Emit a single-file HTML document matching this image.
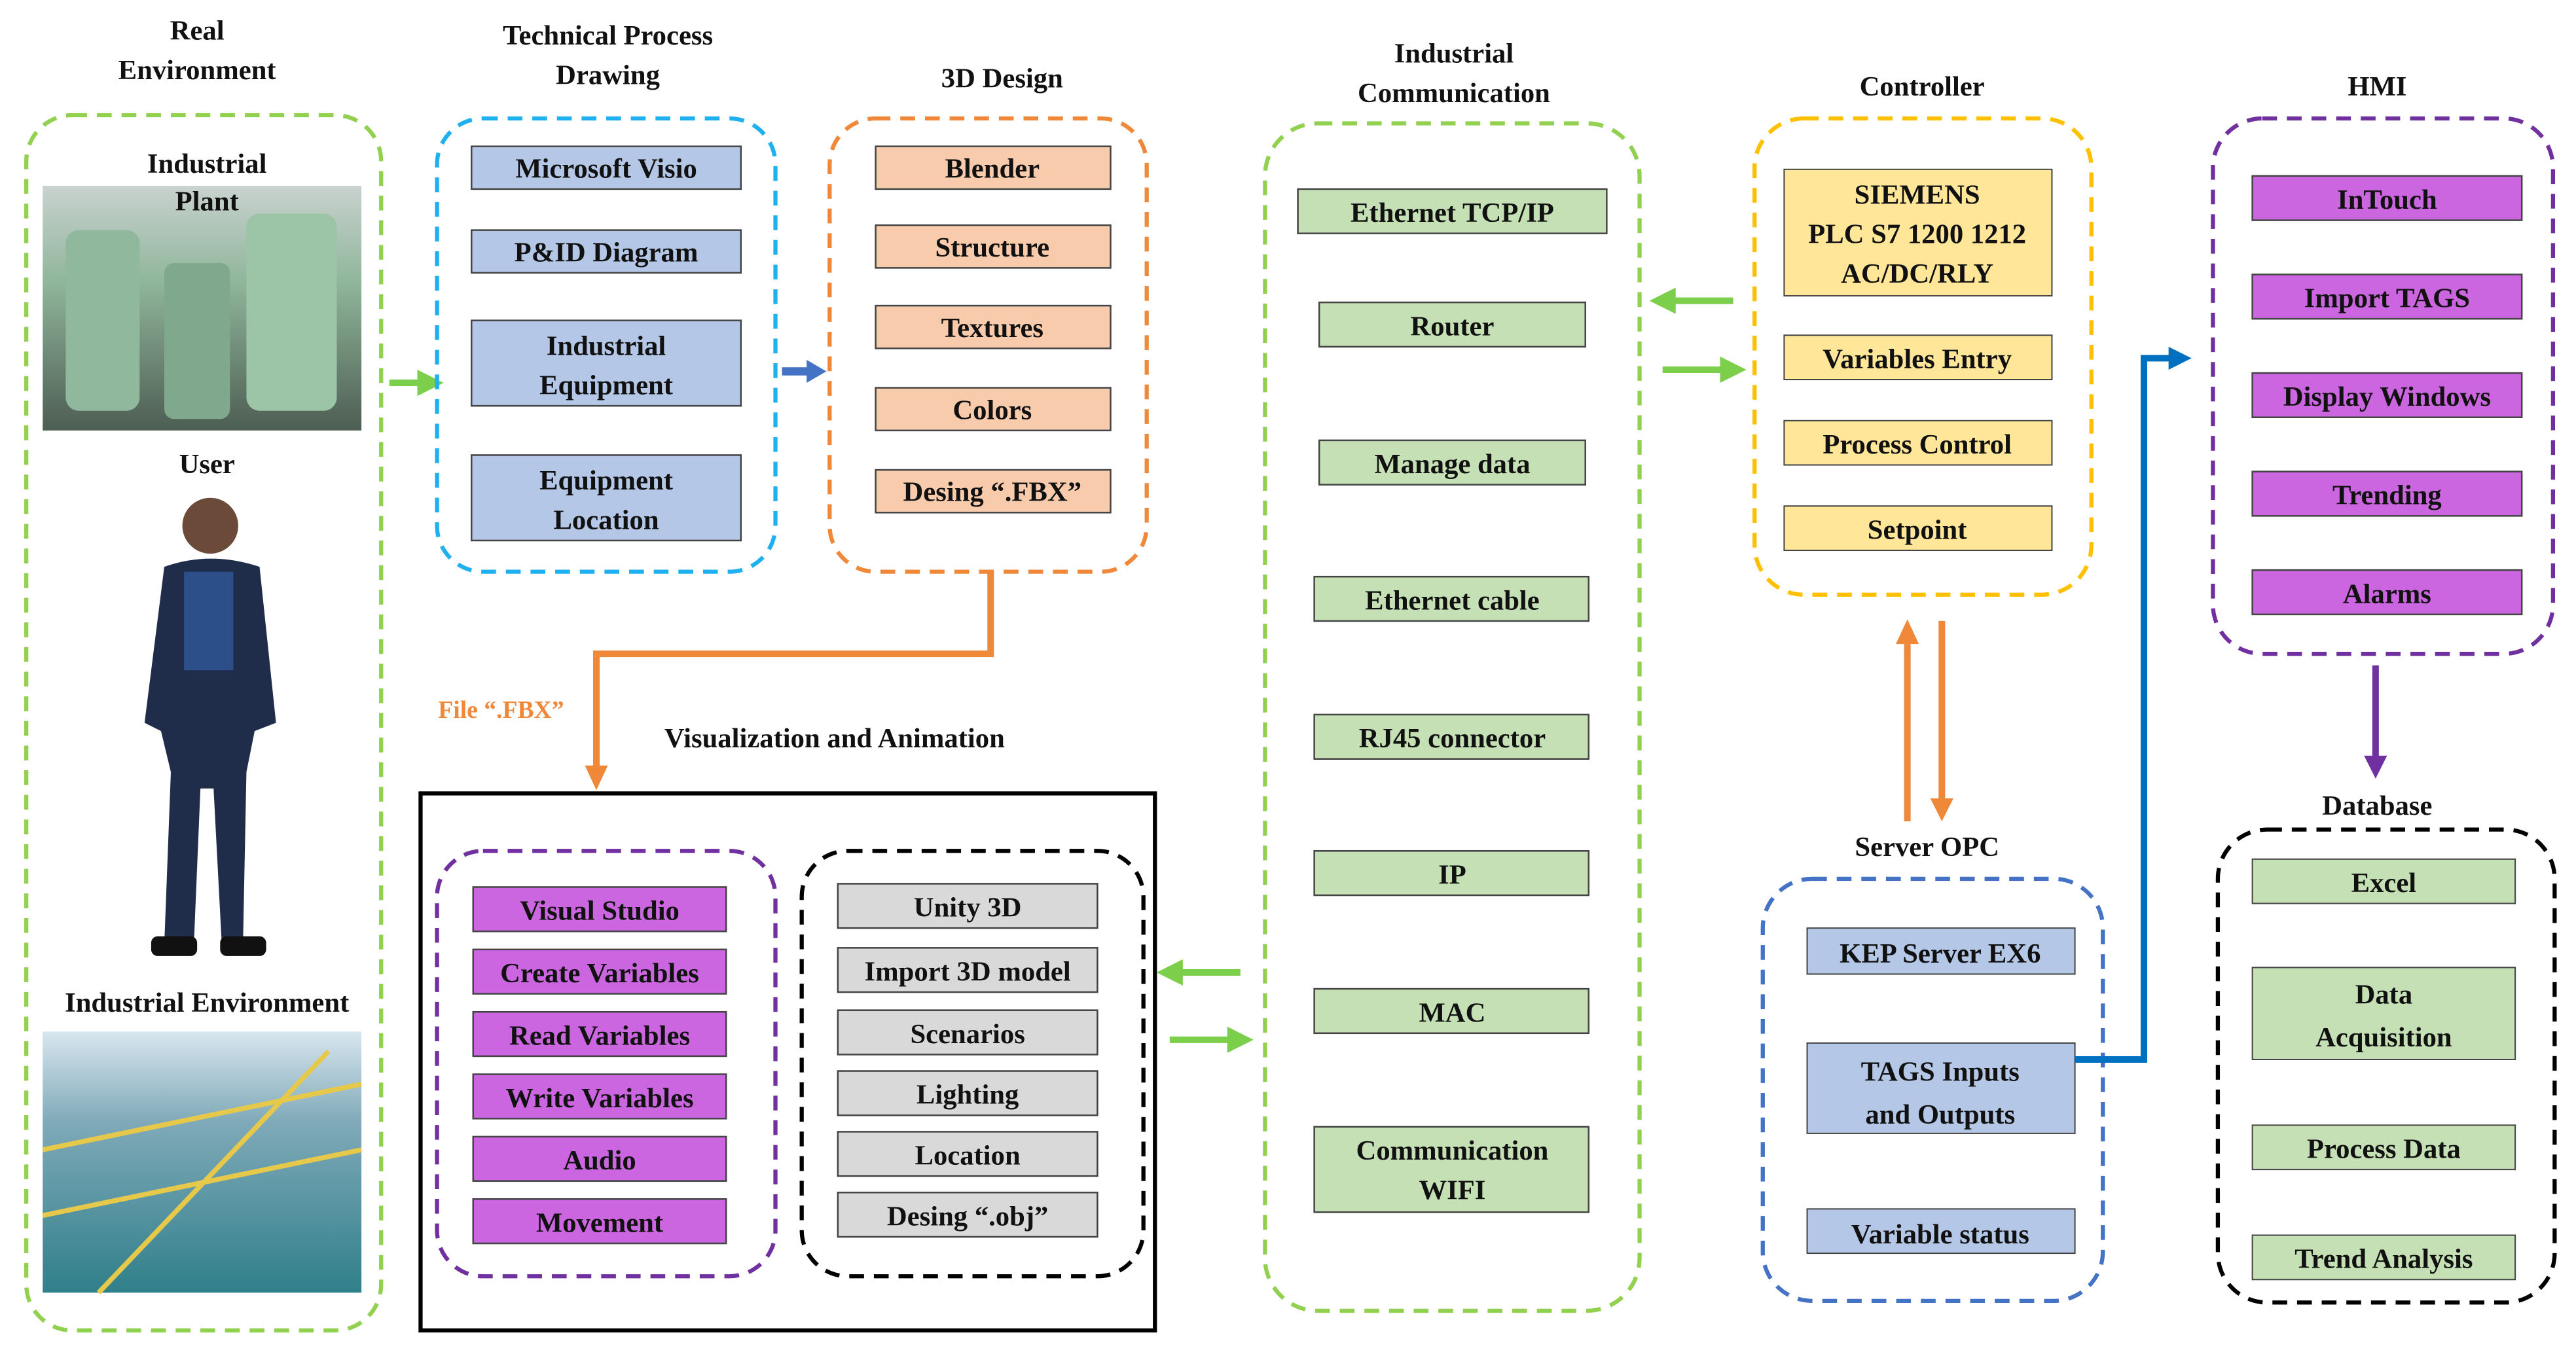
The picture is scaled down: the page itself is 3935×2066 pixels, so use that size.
<!DOCTYPE html>
<html><head><meta charset="utf-8"><style>
html,body{margin:0;padding:0;background:#fff}
svg{display:block}
text{font-family:"Liberation Serif",serif;font-weight:bold;fill:#111}
</style></head><body>
<svg width="3935" height="2066" viewBox="0 0 1568 823" xmlns="http://www.w3.org/2000/svg">
<defs>
<linearGradient id="pl" x1="0" y1="0" x2="0" y2="1"><stop offset="0" stop-color="#c9d2cf"/><stop offset="0.4" stop-color="#8fb59a"/><stop offset="1" stop-color="#4d5d52"/></linearGradient>
<linearGradient id="ie" x1="0" y1="0" x2="0" y2="1"><stop offset="0" stop-color="#d8e6ee"/><stop offset="0.35" stop-color="#7fa9b8"/><stop offset="1" stop-color="#2f7f8a"/></linearGradient>
<marker id="ag" markerWidth="4" markerHeight="4" refX="2" refY="2" orient="auto" markerUnits="strokeWidth"><path d="M0,0 L4,2 L0,4 z" fill="#7ccf4a"/></marker>
</defs>
<g text-anchor="middle" font-size="17">
<!-- Real environment -->
<text x="120" y="24">Real</text><text x="120" y="48">Environment</text>
<rect x="16" y="70" width="216" height="740" rx="28" fill="none" stroke="#92d050" stroke-width="2.5" stroke-dasharray="9,6"/>
<rect x="26" y="113" width="194" height="149" fill="url(#pl)"/>
<rect x="40" y="140" width="45" height="110" rx="8" fill="#8fb89c"/><rect x="150" y="130" width="55" height="120" rx="8" fill="#9cc4a6"/><rect x="100" y="160" width="40" height="95" rx="6" fill="#7fa88c"/>
<text x="126" y="105">Industrial</text><text x="126" y="128" fill="#444">Plant</text>
<text x="126" y="288">User</text>
<circle cx="128" cy="320" r="17" fill="#6b4a3a"/>
<path d="M100,345 Q128,335 158,345 L168,440 L155,445 L150,470 L148,570 L135,575 L130,480 L122,480 L118,575 L100,575 L104,470 L98,445 L88,440 Z" fill="#1f2d4a"/>
<rect x="112" y="348" width="30" height="60" fill="#2c4f8a"/>
<rect x="92" y="570" width="28" height="12" rx="4" fill="#111"/><rect x="134" y="570" width="28" height="12" rx="4" fill="#111"/>
<text x="126" y="616">Industrial Environment</text>
<rect x="26" y="628" width="194" height="159" fill="url(#ie)"/>
<path d="M26,700 L220,660 M26,740 L220,700 M60,787 L200,640" stroke="#e6c84a" stroke-width="3"/>
<path d="M237,233 L262,233" stroke="#7ccf4a" stroke-width="4" marker-end="url(#ag)"/>

<!-- Technical process -->
<text x="370" y="27">Technical Process</text><text x="370" y="51">Drawing</text>
<rect x="266" y="72" width="206" height="276" rx="28" fill="none" stroke="#1fb0f0" stroke-width="2.5" stroke-dasharray="9,6"/>
<g fill="#b4c7e7" stroke="#444" stroke-width="1">
<rect x="287" y="89" width="164" height="26"/><rect x="287" y="140" width="164" height="26"/><rect x="287" y="195" width="164" height="52"/><rect x="287" y="277" width="164" height="52"/></g>
<text x="369" y="108">Microsoft Visio</text><text x="369" y="159">P&amp;ID Diagram</text>
<text x="369" y="216">Industrial</text><text x="369" y="240">Equipment</text>
<text x="369" y="298">Equipment</text><text x="369" y="322">Location</text>
<path d="M476,226 L492,226" stroke="#4472c4" stroke-width="5"/><path d="M491,219 L503,226 L491,233 z" fill="#4472c4"/>

<!-- 3D design -->
<text x="610" y="53">3D Design</text>
<rect x="505" y="72" width="193" height="276" rx="28" fill="none" stroke="#f0883a" stroke-width="2.5" stroke-dasharray="9,6"/>
<g fill="#f8cbad" stroke="#444" stroke-width="1">
<rect x="533" y="89" width="143" height="26"/><rect x="533" y="137" width="143" height="26"/><rect x="533" y="186" width="143" height="26"/><rect x="533" y="236" width="143" height="26"/><rect x="533" y="286" width="143" height="26"/></g>
<text x="604" y="108">Blender</text><text x="604" y="156">Structure</text><text x="604" y="205">Textures</text><text x="604" y="255">Colors</text><text x="604" y="305">Desing “.FBX”</text>
<path d="M603,348 L603,398 L363,398 L363,468" fill="none" stroke="#f0883a" stroke-width="4"/><path d="M356,466 L363,481 L370,466 z" fill="#f0883a"/>
<text x="305" y="437" fill="#f0883a" style="fill:#f0883a" font-size="15">File “.FBX”</text>
<text x="508" y="455">Visualization and Animation</text>

<!-- Visualization -->
<rect x="256" y="483" width="447" height="327" fill="none" stroke="#000" stroke-width="2.5"/>
<rect x="266" y="518" width="206" height="259" rx="28" fill="none" stroke="#7030a0" stroke-width="2.5" stroke-dasharray="9,6"/>
<g fill="#cc66e0" stroke="#444" stroke-width="1">
<rect x="288" y="540" width="154" height="27"/><rect x="288" y="578" width="154" height="27"/><rect x="288" y="616" width="154" height="27"/><rect x="288" y="654" width="154" height="27"/><rect x="288" y="692" width="154" height="27"/><rect x="288" y="730" width="154" height="27"/></g>
<text x="365" y="560">Visual Studio</text><text x="365" y="598">Create Variables</text><text x="365" y="636">Read Variables</text><text x="365" y="674">Write Variables</text><text x="365" y="712">Audio</text><text x="365" y="750">Movement</text>
<rect x="488" y="518" width="208" height="259" rx="28" fill="none" stroke="#000" stroke-width="2.5" stroke-dasharray="9,6"/>
<g fill="#d9d9d9" stroke="#444" stroke-width="1">
<rect x="510" y="538" width="158" height="27"/><rect x="510" y="577" width="158" height="27"/><rect x="510" y="615" width="158" height="27"/><rect x="510" y="652" width="158" height="27"/><rect x="510" y="689" width="158" height="27"/><rect x="510" y="726" width="158" height="27"/></g>
<text x="589" y="558">Unity 3D</text><text x="589" y="597">Import 3D model</text><text x="589" y="635">Scenarios</text><text x="589" y="672">Lighting</text><text x="589" y="709">Location</text><text x="589" y="746">Desing “.obj”</text>
<path d="M755,592 L712,592" stroke="#7ccf4a" stroke-width="4" marker-end="url(#ag)"/>
<path d="M712,633 L755,633" stroke="#7ccf4a" stroke-width="4" marker-end="url(#ag)"/>

<!-- Industrial communication -->
<text x="885" y="38">Industrial</text><text x="885" y="62">Communication</text>
<rect x="770" y="75" width="228" height="723" rx="32" fill="none" stroke="#92d050" stroke-width="2.5" stroke-dasharray="9,6"/>
<g fill="#c5e0b4" stroke="#444" stroke-width="1">
<rect x="790" y="115" width="188" height="27"/><rect x="803" y="184" width="162" height="27"/><rect x="803" y="268" width="162" height="27"/><rect x="800" y="351" width="167" height="27"/><rect x="800" y="435" width="167" height="27"/><rect x="800" y="518" width="167" height="27"/><rect x="800" y="602" width="167" height="27"/><rect x="800" y="686" width="167" height="52"/></g>
<text x="884" y="135">Ethernet TCP/IP</text><text x="884" y="204">Router</text><text x="884" y="288">Manage data</text><text x="884" y="371">Ethernet cable</text><text x="884" y="455">RJ45 connector</text><text x="884" y="538">IP</text><text x="884" y="622">MAC</text><text x="884" y="706">Communication</text><text x="884" y="730">WIFI</text>
<path d="M1055,183 L1012,183" stroke="#7ccf4a" stroke-width="4" marker-end="url(#ag)"/>
<path d="M1012,225 L1055,225" stroke="#7ccf4a" stroke-width="4" marker-end="url(#ag)"/>

<!-- Controller -->
<text x="1170" y="58">Controller</text>
<rect x="1068" y="72" width="205" height="290" rx="30" fill="none" stroke="#ffc000" stroke-width="2.5" stroke-dasharray="9,6"/>
<g fill="#ffe699" stroke="#444" stroke-width="0.8">
<rect x="1086" y="103" width="163" height="77"/><rect x="1086" y="204" width="163" height="27"/><rect x="1086" y="256" width="163" height="27"/><rect x="1086" y="308" width="163" height="27"/></g>
<text x="1167" y="124">SIEMENS</text><text x="1167" y="148">PLC S7 1200 1212</text><text x="1167" y="172">AC/DC/RLY</text>
<text x="1167" y="224">Variables Entry</text><text x="1167" y="276">Process Control</text><text x="1167" y="328">Setpoint</text>
<path d="M1161,500 L1161,392" stroke="#f0883a" stroke-width="4"/><path d="M1154,392 L1161,377 L1168,392 z" fill="#f0883a"/>
<path d="M1182,378 L1182,486" stroke="#f0883a" stroke-width="4"/><path d="M1175,486 L1182,500 L1189,486 z" fill="#f0883a"/>

<!-- Server OPC -->
<text x="1173" y="521">Server OPC</text>
<rect x="1073" y="535" width="207" height="257" rx="30" fill="none" stroke="#4472c4" stroke-width="2.5" stroke-dasharray="9,6"/>
<g fill="#b4c7e7" stroke="#444" stroke-width="0.8">
<rect x="1100" y="565" width="163" height="28"/><rect x="1100" y="635" width="163" height="55"/><rect x="1100" y="736" width="163" height="27"/></g>
<text x="1181" y="586">KEP Server EX6</text><text x="1181" y="658">TAGS Inputs</text><text x="1181" y="684">and Outputs</text><text x="1181" y="757">Variable status</text>
<path d="M1263,645 L1305,645 L1305,218 L1322,218" fill="none" stroke="#0070c0" stroke-width="4"/><path d="M1320,211 L1334,218 L1320,225 z" fill="#0070c0"/>

<!-- HMI -->
<text x="1447" y="58">HMI</text>
<rect x="1347" y="72" width="207" height="326" rx="30" fill="none" stroke="#7030a0" stroke-width="2.5" stroke-dasharray="9,6"/>
<g fill="#cc66e0" stroke="#444" stroke-width="1">
<rect x="1371" y="107" width="164" height="27"/><rect x="1371" y="167" width="164" height="27"/><rect x="1371" y="227" width="164" height="27"/><rect x="1371" y="287" width="164" height="27"/><rect x="1371" y="347" width="164" height="27"/></g>
<text x="1453" y="127">InTouch</text><text x="1453" y="187">Import TAGS</text><text x="1453" y="247">Display Windows</text><text x="1453" y="307">Trending</text><text x="1453" y="367">Alarms</text>
<path d="M1446,405 L1446,462" stroke="#7030a0" stroke-width="4"/><path d="M1439,460 L1446,474 L1453,460 z" fill="#7030a0"/>

<!-- Database -->
<text x="1447" y="496">Database</text>
<rect x="1350" y="505" width="205" height="288" rx="30" fill="none" stroke="#000" stroke-width="2.5" stroke-dasharray="9,6"/>
<g fill="#c5e0b4" stroke="#444" stroke-width="0.8">
<rect x="1371" y="523" width="160" height="27"/><rect x="1371" y="589" width="160" height="56"/><rect x="1371" y="685" width="160" height="27"/><rect x="1371" y="752" width="160" height="27"/></g>
<text x="1451" y="543">Excel</text><text x="1451" y="611">Data</text><text x="1451" y="637">Acquisition</text><text x="1451" y="705">Process Data</text><text x="1451" y="772">Trend Analysis</text>
</g>
</svg>
</body></html>
